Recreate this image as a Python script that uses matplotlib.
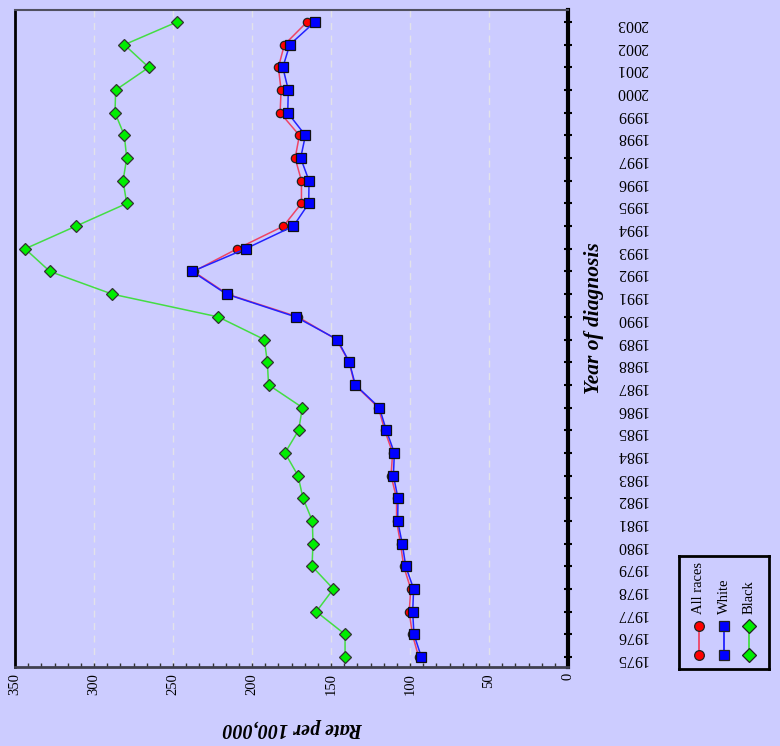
import matplotlib
matplotlib.use('Agg')
import matplotlib.pyplot as plt
from matplotlib.ticker import MultipleLocator, AutoMinorLocator

# incidence per 100,000
years = list(range(1975, 2004))
all_races = [94.5, 98.5, 100.5, 99.5, 104.0, 106.0, 108.5, 108.5, 112.0, 111.0,
             116.0, 120.0, 135.0, 138.5, 146.5, 171.0, 215.5, 237.0, 209.4, 180.1,
             168.7, 168.7, 172.7, 170.0, 182.2, 181.6, 183.3, 179.5, 165.2]
white = [92.8, 97.5, 98.3, 97.7, 102.7, 104.9, 107.8, 107.6, 110.5, 109.9,
         115.0, 119.4, 134.6, 138.4, 146.0, 172.4, 216.1, 237.8, 204.1, 173.8,
         164.1, 163.9, 169.2, 166.2, 177.4, 177.0, 180.5, 176.1, 160.3]
black = [141.1, 141.1, 159.3, 148.5, 162.0, 161.4, 161.8, 167.7, 170.9, 179.1,
         170.5, 168.1, 189.5, 190.3, 192.2, 221.5, 288.4, 327.9, 343.6, 311.4,
         279.3, 281.6, 279.3, 280.8, 286.7, 286.3, 265.3, 280.8, 247.5]
rate_ticks = [0, 50, 100, 150, 200, 250, 300, 350]
series_names = ['All races', 'White', 'Black']

bg = '#CCCCFF'
serif = 'Liberation Serif'
plt.rcParams['font.family'] = serif

fig = plt.figure(figsize=(7.8, 7.46), dpi=100, facecolor=bg)
ax = fig.add_axes([15/780, 1 - 667/746, 553/780, 657/746], facecolor=bg)

# styles: (line colour, marker, marker face, marker size)
styles = [('#EE4466', 'o', '#FF0000', 6.0),
          ('#2222FF', 's', '#0000FF', 6.5),
          ('#44DD44', 'D', '#00EE00', 6.0)]

ax.plot(black, years, color=styles[2][0], lw=1.1, marker='D', ms=6.0,
        mfc=styles[2][2], mec='#333333', mew=0.9, zorder=3)
ax.plot(all_races, years, color=styles[0][0], lw=1.1, marker='o', ms=6.0,
        mfc=styles[0][2], mec='#222222', mew=0.9, zorder=4)
ax.plot(white, years, color=styles[1][0], lw=1.1, marker='s', ms=6.5,
        mfc=styles[1][2], mec='#111111', mew=0.9, zorder=5)

ax.set_xlim(350, 0)
ax.set_ylim(1974.56, 2003.53)

ax.set_xticks(rate_ticks)
ax.set_xticklabels([str(t) for t in rate_ticks], rotation=90, fontsize=10.5)
ax.xaxis.set_minor_locator(AutoMinorLocator(6))
ax.tick_params(axis='x', which='both', direction='in', length=3, width=1,
               color='#333333', pad=4.5)

ax.yaxis.tick_right()
ax.set_yticks(years)
ax.set_yticklabels([str(y) for y in years], rotation=180, fontsize=11.5)
ax.tick_params(axis='y', which='major', direction='inout', length=6, width=1.5,
               color='black', pad=31.5)

ax.grid(axis='x', which='major', linestyle=(0, (5, 4)), color='#E2E2EA', lw=1)

ax.spines['left'].set_color('black')
ax.spines['left'].set_linewidth(2)
ax.spines['right'].set_color('black')
ax.spines['right'].set_linewidth(3)
ax.spines['top'].set_color('#505060')
ax.spines['top'].set_linewidth(1.5)
ax.spines['bottom'].set_color('#404050')
ax.spines['bottom'].set_linewidth(2)

fig.text(293/780, 1 - 728/746, 'Rate per 100,000', rotation=180, ha='center',
         va='center', fontsize=14.5, fontweight='bold', fontstyle='italic')
fig.text(594/780, 1 - 318/746, 'Year of diagnosis', rotation=90, ha='center',
         va='center', fontsize=15.5, fontweight='bold', fontstyle='italic')

# legend box, drawn by hand because the entries are turned on their side
lg = fig.add_axes([679/780, 1 - 669/746, 90/780, 113/746], facecolor=bg)
lg.set_xlim(0, 90)
lg.set_ylim(113, 0)
lg.set_xticks([])
lg.set_yticks([])
for s in lg.spines.values():
    s.set_color('black')
    s.set_linewidth(2)
for i, (name, st) in enumerate(zip(series_names, styles)):
    xc = 20 + 25 * i
    lg.plot([xc, xc], [70, 99], color=st[0], lw=1.3, marker=st[1],
            ms=st[3] + 1, mfc=st[2], mec='#222222', mew=0.9)
    lg.text(xc, 58, name, rotation=90, ha='center', va='bottom', fontsize=10.5)

fig.savefig('out.png', dpi=100, facecolor=bg)
